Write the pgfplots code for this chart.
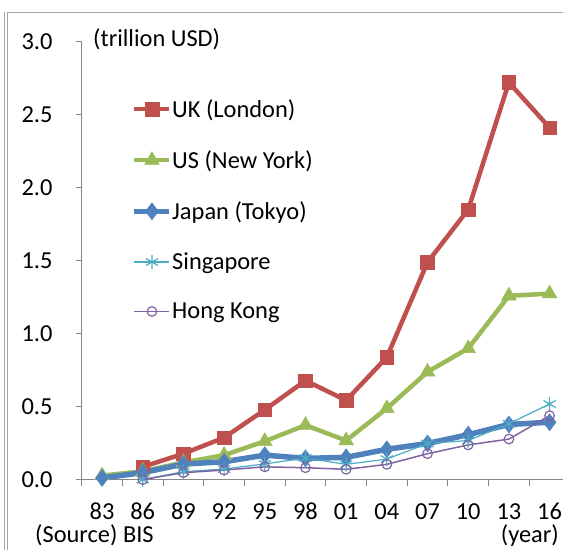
\documentclass[border=0pt]{standalone}
\usepackage{fontspec}
\setmainfont{Carlito}
\usepackage{pgfplots}
\pgfplotsset{compat=1.18}
\definecolor{ukred}{HTML}{C0504D}
\definecolor{usgreen}{HTML}{9BBB59}
\definecolor{jpblue}{HTML}{4F81BD}
\definecolor{sgcyan}{HTML}{4BACC6}
\definecolor{hkpurple}{HTML}{8064A2}
\definecolor{axisgray}{HTML}{868686}
\definecolor{framegray}{HTML}{A6A6A6}
\newcommand{\lab}{\fontsize{24.5}{29}\selectfont}

\begin{document}
\begin{tikzpicture}[x=1bp,y=1bp]
\useasboundingbox (0,0) rectangle (563,550);
% outer frame of the sheet
\draw[framegray, line width=1bp] (4.7,0) -- (4.7,537.7);
\draw[framegray, line width=1bp] (7.5,0) -- (7.5,537.7) -- (563,537.7);

\begin{axis}[
    at={(81.7bp,70bp)}, anchor=south west,
    scale only axis, width=481.3bp, height=438.5bp,
    xmin=-0.5, xmax=11.33, ymin=0, ymax=3,
    axis lines*=left,
    axis line style={axisgray, line width=1bp},
    xtick={0,...,11},
    xticklabels={83,86,89,92,95,98,01,04,07,10,13,16},
    major x tick style={draw=none},
    minor xtick={-0.5,0.5,...,11.5},
    ytick={0,0.5,...,3},
    y tick label style={/pgf/number format/fixed, /pgf/number format/fixed zerofill,
        /pgf/number format/precision=1},
    /pgf/number format/assume math mode=true,
    tick align=outside, major tick length=6bp, minor tick length=6bp,
    tick style={axisgray, line width=1bp},
    ticklabel style={font=\lab, inner sep=0pt},
    yticklabel style={anchor=east, xshift=-23bp},
    xticklabel style={anchor=north, yshift=-17bp},
    clip=false,
    legend style={at={(0.1039,0.868)}, anchor=north west, draw=none, fill=none,
        inner sep=0pt, outer sep=0pt, row sep=31.8bp, column sep=0bp,
        nodes={inner sep=0pt, font=\lab}},
    legend cell align=left,
    legend image code/.code={\draw[mark repeat=2,mark phase=2,#1]
        plot coordinates {(0bp,0bp)(17.5bp,0bp)(35bp,0bp)};},
]
\addplot[ukred, line width=4.5bp, mark=square*, mark size=6.8bp,
    mark options={line width=0.5bp}]
    coordinates {(1,0.09) (2,0.18) (3,0.29) (4,0.48) (5,0.68) (6,0.545)
                 (7,0.84) (8,1.49) (9,1.85) (10,2.72) (11,2.41)};
\addlegendentry{UK (London)}
\addplot[usgreen, line width=4.5bp, mark=triangle*, mark size=8.5bp,
    mark options={line width=0.5bp}]
    coordinates {(0,0.03) (1,0.06) (2,0.12) (3,0.17) (4,0.265) (5,0.375)
                 (6,0.27) (7,0.49) (8,0.74) (9,0.90) (10,1.26) (11,1.275)};
\addlegendentry{US (New York)}
\addplot[jpblue, line width=5.5bp, mark=diamond*, mark size=8.5bp,
    mark options={line width=0.5bp}]
    coordinates {(0,0.014) (1,0.05) (2,0.109) (3,0.125) (4,0.17) (5,0.148)
                 (6,0.155) (7,0.21) (8,0.25) (9,0.31) (10,0.38) (11,0.395)};
\addlegendentry{Japan (Tokyo)}
\addplot[sgcyan, line width=1.2bp, mark=asterisk, mark size=7bp,
    mark options={line width=1.2bp}]
    coordinates {(1,0.003) (2,0.057) (3,0.075) (4,0.11) (5,0.15) (6,0.107)
                 (7,0.143) (8,0.25) (9,0.27) (10,0.385) (11,0.52)};
\addlegendentry{Singapore}
\addplot[hkpurple, line width=1.5bp, mark=o, mark size=4.8bp,
    mark options={line width=1.2bp}]
    coordinates {(1,0.003) (2,0.05) (3,0.068) (4,0.09) (5,0.084) (6,0.073)
                 (7,0.107) (8,0.18) (9,0.24) (10,0.28) (11,0.44)};
\addlegendentry{Hong Kong}
\end{axis}

\node[anchor=base west, inner sep=0pt, font=\lab] at (93,503) {(trillion USD)};
\node[anchor=base west, inner sep=0pt, font=\lab] at (35,7) {(Source) BIS};
\node[anchor=base east, inner sep=0pt, font=\lab] at (559,7) {(year)};
\end{tikzpicture}
\end{document}
